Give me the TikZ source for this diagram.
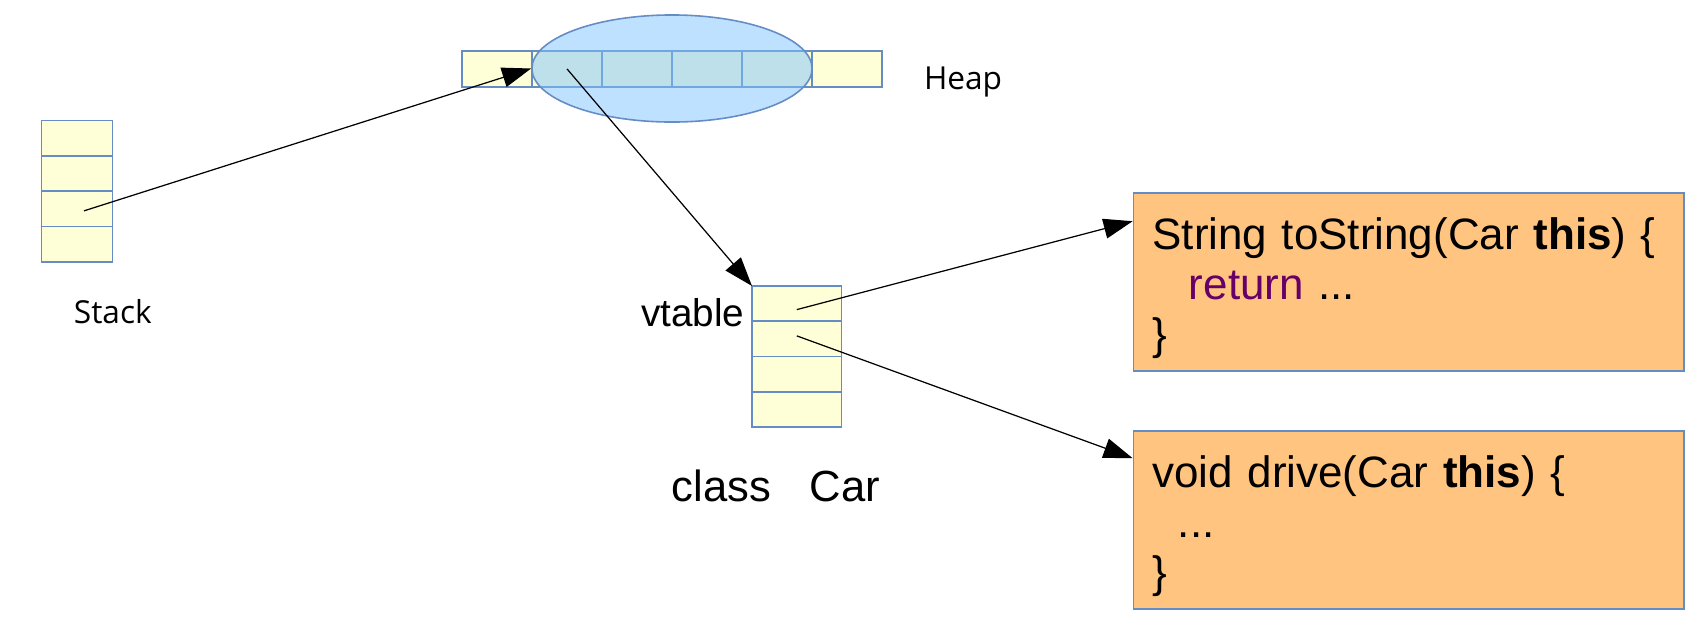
\documentclass[tikz,border=0pt]{standalone}
\usepackage{fontspec}
\setmainfont{Liberation Sans}
\newfontfamily\titlefont{Open Sans}
\usetikzlibrary{shapes.geometric, arrows.meta, positioning, calc}
\definecolor{cellfill}{RGB}{255,255,215}
\definecolor{cellline}{RGB}{101,140,196}
\definecolor{objfill}{RGB}{125,195,255}
\definecolor{codefill}{RGB}{255,196,128}
\definecolor{keyword}{RGB}{102,0,102}
\tikzstyle{cell} = [rectangle, draw=cellline, fill=cellfill, line width=0.45pt, inner sep=0pt, outer sep=0pt, minimum width=0.71cm, minimum height=0.3525cm]
\tikzstyle{vcell} = [cell, minimum width=0.896cm]
\tikzstyle{object} = [ellipse, draw=cellline, fill=objfill, fill opacity=0.5, line width=0.45pt, minimum width=2.8cm, minimum height=1.07cm, inner sep=0pt]
\tikzstyle{code} = [rectangle, draw=cellline, fill=codefill, line width=0.45pt, minimum width=5.504cm, minimum height=1.777cm, text width=5.124cm, inner xsep=0.19cm, align=left, font=\fontsize{12.5}{14.2}\selectfont]
\tikzstyle{title} = [font=\titlefont\fontsize{9}{11}\selectfont, inner sep=0pt]
\tikzstyle{bigtext} = [font=\fontsize{12.4}{14.2}\selectfont, inner sep=0pt]
\tikzstyle{arrow} = [line width=0.35pt, -{Triangle[length=0.29cm, width=0.2cm]}]

\begin{document}
\begin{tikzpicture}[x=0.01cm, y=-0.01cm]
\useasboundingbox (0,0) rectangle (1698,630);

% stack
\node (s1) [cell] at (77,138.3) {};
\node (s2) [cell, below=0pt of s1] {};
\node (s3) [cell, below=0pt of s2] {};
\node (s4) [cell, below=0pt of s3] {};
\node (stacklbl) [title, anchor=base] at (112.8,323.3) {Stack};

% heap
\foreach \i in {1,...,6}
  \node (h\i) [cell, minimum width=0.7cm, minimum height=0.357cm] at ({427+70*\i},68.9) {};
\node (obj) [object] at (672,68.5) {};
\node (heaplbl) [title, anchor=base west] at (923.3,89.3) {Heap};

% vtable
\node (v1) [vcell] at (796.8,303.6) {};
\node (v2) [vcell, below=0pt of v1] {};
\node (v3) [vcell, below=0pt of v2] {};
\node (v4) [vcell, below=0pt of v3] {};
\node (vlbl) [bigtext, font=\fontsize{11}{13}\selectfont, anchor=base east] at (745,326.7) {vtable};
\node (cls) [bigtext, anchor=base] at (776,501.7) {class\hspace{0.384cm}Car};

% methods
\node (m1) [code] at (1408.8,281.9) {\rule{0pt}{12.5pt}String toString(Car \textbf{this}) \{\\
\hspace*{0.365cm}\textcolor{keyword}{return} ...\\
\}};
\node (m2) [code] at (1408.8,519.9) {\rule{0pt}{12.5pt}void drive(Car \textbf{this}) \{\\
\hspace*{0.255cm}...\\
\}};

\draw [arrow] ($(s3.center)+(7,2)$) -- (obj.west);
\draw [arrow] (h2.center) -- (v1.north west);
\draw [arrow] ($(v1.center)+(0,6)$) -- ($(m1.north west)+(0,29)$);
\draw [arrow] ($(v2.center)+(0,-3)$) -- ($(m2.north west)+(0,28)$);
\end{tikzpicture}
\end{document}
